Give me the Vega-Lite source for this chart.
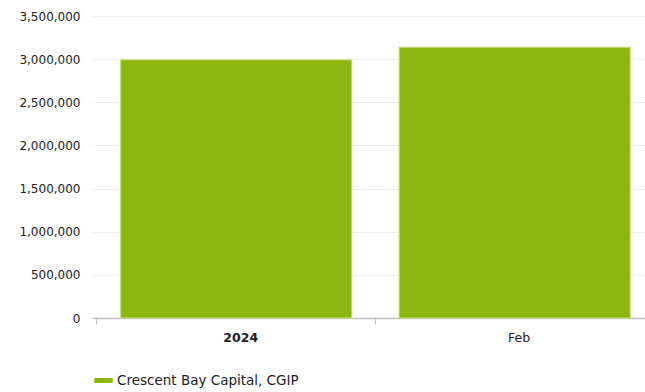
{
  "$schema": "https://vega.github.io/schema/vega-lite/v6.json",
  "autosize": {"type": "none"},
  "width": 553,
  "height": 302,
  "padding": {"left": 92, "top": 16, "right": 0, "bottom": 74},
  "background": "#ffffff",
  "config": {
    "view": {"stroke": null},
    "font": "DejaVu Sans"
  },
  "data": {
    "values": [
      {"period": "2024", "series": "Crescent Bay Capital, CGIP", "value": 2992000},
      {"period": "Feb", "series": "Crescent Bay Capital, CGIP", "value": 3138000}
    ]
  },
  "mark": {"type": "bar", "stroke": "#c8e07a", "strokeWidth": 1},
  "encoding": {
    "x": {
      "field": "period",
      "type": "nominal",
      "sort": null,
      "scale": {"paddingInner": 0.17, "paddingOuter": 0.078, "align": 0.66},
      "axis": {
        "title": null,
        "labelAngle": 0,
        "labelFont": "DejaVu Sans",
        "labelFontSize": 12.5,
        "labelColor": "#222222",
        "labelPadding": 7,
        "labelFontWeight": {"condition": {"test": "datum.value == '2024'", "value": "bold"}, "value": "normal"},
        "domainColor": "#c0c0c0",
        "domainWidth": 1.5,
        "tickColor": "#c0c0c0",
        "tickSize": 6,
        "tickOffset": -140,
        "labelOffset": 144,
        "grid": false
      }
    },
    "y": {
      "field": "value",
      "type": "quantitative",
      "scale": {"domain": [0, 3500000], "nice": false},
      "axis": {
        "title": null,
        "values": [0, 500000, 1000000, 1500000, 2000000, 2500000, 3000000, 3500000],
        "format": ",d",
        "labelFont": "DejaVu Sans",
        "labelFontSize": 12,
        "labelColor": "#222222",
        "labelPadding": 12,
        "domain": false,
        "ticks": false,
        "gridColor": "#ececec",
        "gridWidth": 1
      }
    },
    "color": {
      "field": "series",
      "type": "nominal",
      "scale": {"range": ["#8db510"]},
      "legend": {
        "title": null,
        "orient": "none",
        "legendX": 2,
        "legendY": 355,
        "symbolType": "M-1,-0.27L1,-0.27L1,0.27L-1,0.27Z",
        "symbolSize": 340,
        "symbolStrokeWidth": 0,
        "labelFont": "DejaVu Sans",
        "labelFontSize": 13.5,
        "labelColor": "#222222",
        "labelOffset": 4,
        "labelLimit": 0
      }
    }
  }
}
